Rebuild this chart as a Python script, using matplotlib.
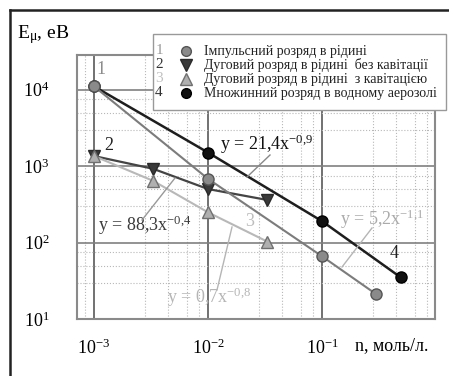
import matplotlib
matplotlib.use("Agg")
import matplotlib.pyplot as plt
from matplotlib.lines import Line2D
from matplotlib.patches import Rectangle
from matplotlib.ticker import LogLocator, NullFormatter

plt.rcParams['font.family'] = ['Liberation Serif', 'DejaVu Serif']
plt.rcParams['mathtext.fontset'] = 'custom'
plt.rcParams['mathtext.rm'] = 'Liberation Serif'
plt.rcParams['mathtext.it'] = 'Liberation Serif:italic'
plt.rcParams['mathtext.bf'] = 'Liberation Serif:bold'

# ---- data ----
x1 = [1e-3, 1e-2, 1e-1, 0.3]
y1 = [1.1e4, 680, 66, 21]
x2 = [1e-3, 0.0033, 1e-2, 0.033]
y2 = [1350, 920, 500, 360]
x3 = [1e-3, 0.0033, 1e-2, 0.033]
y3 = [1350, 640, 248, 103]
x4 = [1e-3, 1e-2, 1e-1, 0.49]
y4 = [1.1e4, 1500, 190, 35]

legend_labels = ["Імпульсний розряд в рідині",
                 "Дуговий розряд в рідині  без кавітації",
                 "Дуговий розряд в рідині  з кавітацією",
                 "Множинний розряд в водному аерозолі"]
fit_labels = [r"y = 5,2x$^{-1{,}1}$", r"y = 88,3x$^{-0{,}4}$",
              r"y = 0,7x$^{-0{,}8}$", r"y = 21,4x$^{-0{,}9}$"]
xticks = [1e-3, 1e-2, 1e-1]
yticks = [1e1, 1e2, 1e3, 1e4]
x_minor_subs = [2.8, 4.5, 6.5, 8.3]
y_minor_subs = [3.0, 5.0, 7.5]

W, H = 449, 376
fig = plt.figure(figsize=(W / 100, H / 100), dpi=100)

def fx(px):
    return px / W

def fy(py):
    return 1 - py / H

ax_l, ax_r, ax_t, ax_b = 77, 435, 55, 319
ax = fig.add_axes([fx(ax_l), fy(ax_b), (ax_r - ax_l) / W, (ax_b - ax_t) / H])
ax.set_xscale('log')
ax.set_yscale('log')
ax.set_xlim(10 ** -3.149, 10 ** -0.009)
ax.set_ylim(10, 10 ** 4.451)

ax.set_xticks(xticks)
ax.set_yticks(yticks)
ax.xaxis.set_minor_locator(LogLocator(base=10, subs=x_minor_subs))
ax.yaxis.set_minor_locator(LogLocator(base=10, subs=y_minor_subs))
ax.xaxis.set_minor_formatter(NullFormatter())
ax.yaxis.set_minor_formatter(NullFormatter())
ax.tick_params(which='both', length=0)
ax.tick_params(axis='y', pad=20, labelsize=13)
ax.tick_params(axis='x', pad=14, labelsize=13)

ax.grid(which='major', axis='x', color='#666666', lw=1.3)
ax.grid(which='major', axis='y', color='#808080', lw=1.2)
ax.grid(which='minor', color='#b8b8b8', lw=0.8, ls=':')
ax.set_axisbelow(True)
for s in ax.spines.values():
    s.set_color('#8a8a8a')
    s.set_linewidth(1.5)

# series
ax.plot(x4, y4, color='#1e1e1e', lw=1.8, marker='o', ms=8,
        mfc='#111111', mec='#000000', zorder=4)
ax.plot(x1, y1, color='#7c7c7c', lw=1.5, marker='o', ms=8,
        mfc='#8a8a8a', mec='#555555', zorder=5)
ax.plot(x2, y2, color='#444444', lw=1.6, marker='v', ms=9,
        mfc='#3a3a3a', mec='#2a2a2a', zorder=4)
ax.plot(x3, y3, color='#b8b8b8', lw=1.5, marker='^', ms=9,
        mfc='#b0b0b0', mec='#707070', zorder=5)

def af(px, py):
    return ((px - ax_l) / (ax_r - ax_l), (ax_b - py) / (ax_b - ax_t))

T = ax.transAxes
# series numbers
for txt, (px, py), col in [("1", (101, 70), '#8c8c8c'), ("2", (109, 145), '#222222'),
                           ("3", (250, 222), '#bdbdbd'), ("4", (394, 253), '#222222')]:
    ax.text(*af(px, py), txt, transform=T, ha='center', va='center',
            fontsize=13, color=col, zorder=6)

# fit labels
for txt, (px, py), col in [(fit_labels[0], (340, 219), '#ababab'),
                           (fit_labels[1], (98, 225), '#3a3a3a'),
                           (fit_labels[2], (167, 297), '#b5b5b5'),
                           (fit_labels[3], (220, 144), '#111111')]:
    ax.text(*af(px, py), txt, transform=T, ha='left', va='center',
            fontsize=13, color=col, zorder=6)

# leader lines
for (p0, p1, col) in [((270, 155), (247, 177), '#888888'),
                      ((142, 220), (175, 178), '#999999'),
                      ((372, 228), (342, 267), '#b5b5b5'),
                      ((232, 227), (217, 290), '#b5b5b5')]:
    a0, a1 = af(*p0), af(*p1)
    ax.add_line(Line2D([a0[0], a1[0]], [a0[1], a1[1]], transform=T,
                       color=col, lw=1.0, zorder=6))

# figure labels
fig.text(fx(17), fy(35), r"E$_{\mathrm{\mu}}$, eB", fontsize=14, ha='left', va='center')
fig.text(fx(355), fy(346), "n, моль/л.", fontsize=13, ha='left', va='center')

# legend box
fig.add_artist(Rectangle((fx(153), fy(110)), (446 - 153) / W, (110 - 34) / H,
                         transform=fig.transFigure, facecolor='white',
                         edgecolor='#999999', lw=1.0, zorder=3))
leg_num_col = ['#9a9a9a', '#333333', '#c0c0c0', '#333333']
leg_mk = [dict(marker='o', mfc='#8a8a8a', mec='#555555', ms=7),
          dict(marker='v', mfc='#3a3a3a', mec='#2a2a2a', ms=8),
          dict(marker='^', mfc='#b0b0b0', mec='#707070', ms=8),
          dict(marker='o', mfc='#111111', mec='#000000', ms=7)]
for i, lab in enumerate(legend_labels):
    py = 51 + 14 * i
    fig.text(fx(159), fy(py), str(i + 1), fontsize=11, color=leg_num_col[i],
             ha='center', va='center', zorder=4)
    fig.add_artist(Line2D([fx(186)], [fy(py)], transform=fig.transFigure,
                          ls='none', zorder=4, **leg_mk[i]))
    fig.text(fx(204), fy(py), lab, fontsize=10, color='#222222',
             ha='left', va='center', zorder=4)

# outer frame (top and left)
fig.add_artist(Line2D([fx(10), fx(449)], [fy(10), fy(10)], transform=fig.transFigure,
                      color='#222222', lw=1.8))
fig.add_artist(Line2D([fx(10), fx(10)], [fy(10), fy(376)], transform=fig.transFigure,
                      color='#222222', lw=1.8))

fig.savefig("out.png", dpi=100)
